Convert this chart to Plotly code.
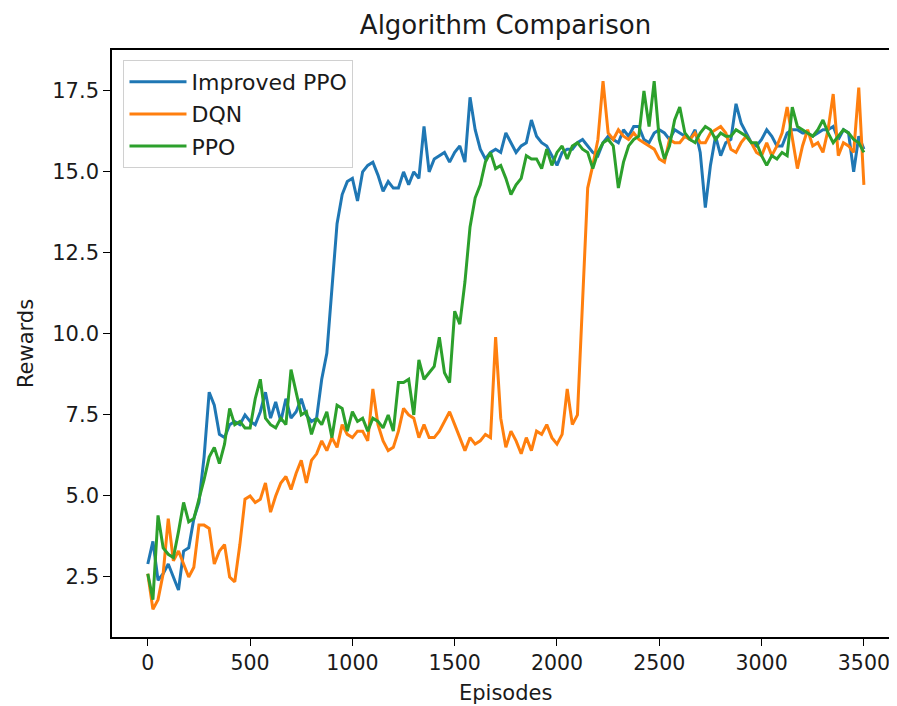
import plotly.graph_objects as go

episodes = list(range(0, 3501, 25))

improved_ppo = [
    2.9, 3.6, 2.4, 2.6, 2.9, 2.5, 2.1, 3.3, 3.4, 4.3,      # 0-225
    4.8, 6.2, 8.2, 7.8, 6.9, 6.8, 7.2, 7.3, 7.2, 7.5,      # 250-475
    7.3, 7.2, 7.6, 8.2, 7.4, 7.9, 7.3, 8.0, 7.4, 7.6,      # 500-725
    8.0, 7.5, 7.3, 7.4, 8.6, 9.4, 11.5, 13.4, 14.3, 14.7,  # 750-975
    14.8, 14.1, 15.0, 15.2, 15.3, 14.9, 14.4, 14.7, 14.5, 14.5,  # 1000-1225
    15.0, 14.6, 15.0, 14.8, 16.4, 15.0, 15.4, 15.5, 15.6, 15.3,  # 1250-1475
    15.6, 15.8, 15.3, 17.3, 16.3, 15.7, 15.4, 15.6, 15.7, 15.6,  # 1500-1725
    16.2, 15.9, 15.6, 15.8, 15.9, 16.6, 16.1, 15.9, 15.8, 15.5,  # 1750-1975
    15.2, 15.6, 15.7, 15.7, 15.9, 16.0, 15.8, 15.6, 15.5, 15.9,  # 2000-2225
    16.1, 16.0, 15.9, 16.3, 16.1, 16.4, 16.4, 16.0, 15.9, 16.2,  # 2250-2475
    16.3, 16.2, 16.0, 16.3, 16.2, 16.1, 16.0, 16.3, 15.6, 13.9,  # 2500-2725
    15.2, 16.1, 15.5, 15.9, 16.0, 17.1, 16.5, 16.2, 15.9, 15.8,  # 2750-2975
    16.0, 16.3, 16.1, 15.8, 15.8, 16.2, 16.3, 16.3, 16.2, 16.2,  # 3000-3225
    16.1, 16.2, 16.3, 16.3, 16.4, 16.0, 16.3, 16.2, 15.0, 16.1,  # 3250-3475
    15.7,                                                        # 3500
]

dqn = [
    2.6, 1.5, 1.8, 2.6, 4.3, 3.0, 3.3, 2.9, 2.5, 2.8,      # 0-225
    4.1, 4.1, 4.0, 2.9, 3.3, 3.5, 2.5, 2.35, 3.5, 4.9,     # 250-475
    5.0, 4.8, 4.9, 5.4, 4.5, 5.0, 5.4, 5.6, 5.2, 5.7,      # 500-725
    6.1, 5.4, 6.1, 6.3, 6.7, 6.4, 6.8, 6.5, 7.2, 6.9,      # 750-975
    6.8, 7.0, 7.0, 6.7, 8.3, 7.2, 6.7, 6.4, 6.5, 7.0,      # 1000-1225
    7.7, 7.5, 7.4, 6.8, 7.2, 6.8, 6.8, 7.0, 7.3, 7.6,      # 1250-1475
    7.2, 6.8, 6.4, 6.8, 6.6, 6.7, 6.9, 6.8, 9.9, 7.4,      # 1500-1725
    6.5, 7.0, 6.7, 6.3, 6.8, 6.4, 7.0, 6.9, 7.2, 6.8,      # 1750-1975
    6.6, 6.9, 8.3, 7.2, 7.5, 11.0, 14.5, 15.2, 16.0, 17.8,  # 2000-2225
    16.2, 16.0, 16.3, 16.1, 16.0, 16.2, 16.0, 15.9, 15.8, 15.7,  # 2250-2475
    15.4, 15.3, 16.0, 15.9, 15.9, 16.1, 16.0, 16.2, 15.9, 15.9,  # 2500-2725
    16.2, 16.3, 16.4, 16.2, 15.7, 15.6, 15.9, 16.1, 15.9, 15.6,  # 2750-2975
    15.5, 15.9, 15.5, 15.8, 16.2, 17.0, 16.1, 15.1, 15.8, 16.3,  # 3000-3225
    15.8, 15.9, 15.6, 16.3, 17.4, 15.5, 15.9, 15.8, 15.6, 17.6,  # 3250-3475
    14.6,                                                        # 3500
]

ppo = [
    2.6, 1.8, 4.4, 3.4, 3.2, 3.1, 3.9, 4.8, 4.2, 4.3,      # 0-225
    4.9, 5.5, 6.2, 6.5, 6.0, 6.6, 7.7, 7.2, 7.3, 7.1,      # 250-475
    7.1, 8.0, 8.6, 7.4, 7.2, 7.1, 7.4, 7.2, 8.9, 8.2,      # 500-725
    7.5, 7.6, 6.9, 7.4, 7.2, 7.6, 6.8, 7.8, 7.7, 7.0,      # 750-975
    7.6, 7.3, 7.4, 7.0, 7.4, 7.3, 7.1, 7.5, 7.0, 8.5,      # 1000-1225
    8.5, 8.6, 7.5, 9.2, 8.6, 8.8, 9.0, 9.9, 8.8, 8.5,      # 1250-1475
    10.7, 10.3, 11.6, 13.3, 14.2, 14.6, 15.3, 15.6, 15.1, 15.2,  # 1500-1725
    14.8, 14.3, 14.6, 14.8, 15.5, 15.4, 15.4, 15.1, 15.7, 15.2,  # 1750-1975
    15.6, 15.8, 15.4, 15.8, 15.9, 15.7, 15.6, 15.1, 15.6, 15.9,  # 2000-2225
    16.0, 15.8, 14.5, 15.3, 15.8, 16.0, 16.1, 17.5, 16.4, 17.8,  # 2250-2475
    16.0, 15.4, 15.8, 16.6, 17.0, 16.2, 16.0, 15.9, 16.2, 16.4,  # 2500-2725
    16.3, 16.0, 16.2, 16.1, 16.1, 16.3, 16.2, 16.1, 15.9, 15.9,  # 2750-2975
    15.5, 15.2, 15.5, 15.4, 15.6, 15.5, 17.0, 16.4, 16.3, 16.2,  # 3000-3225
    16.1, 16.3, 16.6, 16.2, 15.9, 16.1, 16.3, 16.2, 16.0, 15.9,  # 3250-3475
    15.6,                                                        # 3500
]

series_names = ["Improved PPO", "DQN", "PPO"]
series_colors = ["#1f77b4", "#ff7f0e", "#2ca02c"]
x_ticks = [0, 500, 1000, 1500, 2000, 2500, 3000, 3500]
y_ticks = [2.5, 5.0, 7.5, 10.0, 12.5, 15.0, 17.5]
y_tick_text = ["2.5", "5.0", "7.5", "10.0", "12.5", "15.0", "17.5"]

FONT = "DejaVu Sans, Liberation Sans, sans-serif"
TXT = "#1a1a1a"

# page body has an 8px margin; visible figure area is window (8..889, 8..706)
W, H = 881, 698
L, T = 103.5, 42
PLOT_BOTTOM = 628.7          # figure px of the x axis line
B = H - PLOT_BOTTOM
PW, PH = W - L, H - T - B
X_MAX = (889 - 146.7) / 0.2049  # episode value at the figure's right edge
X_RANGE = [-175, X_MAX]

fig = go.Figure()
for name, color, vals in zip(series_names, series_colors, [improved_ppo, dqn, ppo]):
    fig.add_trace(go.Scatter(
        x=episodes, y=vals, mode="lines", name=name, legendgroup=name,
        line=dict(color=color, width=3.0),
    ))

fig.update_layout(
    width=W, height=H,
    margin=dict(l=L, r=0, t=T, b=B, autoexpand=False),
    paper_bgcolor="white", plot_bgcolor="white",
    font=dict(family=FONT, size=21, color=TXT),
    title=dict(text="Algorithm Comparison", x=497.5 / W, xanchor="center",
               y=1 - 17 / H, yanchor="middle",
               font=dict(size=26, family=FONT, color=TXT)),
    showlegend=True,
    legend=dict(
        x=(115 - L) / PW, y=1 - (52 - T) / PH, xanchor="left", yanchor="top",
        bgcolor="rgba(255,255,255,0.8)", bordercolor="#d0d0d0", borderwidth=1,
        font=dict(size=22, family=FONT, color=TXT),
        tracegroupgap=0.5, itemwidth=57,
    ),
    xaxis=dict(
        range=X_RANGE, tickvals=x_ticks, ticktext=[str(t) for t in x_ticks],
        showgrid=False, zeroline=False, showline=True, linecolor="black", linewidth=1.6,
        ticks="outside", ticklen=7, tickwidth=1.4, tickcolor="black",
        tickfont=dict(size=20.5, family=FONT, color=TXT), ticklabeloverflow="allow",
    ),
    # top spine drawn by an overlaying, tick-less axis
    xaxis2=dict(
        range=X_RANGE, overlaying="x", side="top", matches="x",
        showgrid=False, zeroline=False, showline=True, linecolor="black", linewidth=1.6,
        showticklabels=False, ticks="",
    ),
    yaxis=dict(
        range=[0.648, 18.76], tickvals=y_ticks, ticktext=y_tick_text,
        showgrid=False, zeroline=False, showline=True, linecolor="black", linewidth=1.6,
        ticks="outside", ticklen=7, tickwidth=1.4, tickcolor="black",
        tickfont=dict(size=21, family=FONT, color=TXT),
    ),
    annotations=[
        dict(text="Episodes", xref="paper", yref="paper", x=(497.5 - L) / PW,
             y=-(685 - PLOT_BOTTOM) / PH,
             xanchor="center", yanchor="middle", showarrow=False,
             font=dict(size=21, family=FONT, color=TXT)),
        dict(text="Rewards", xref="paper", yref="paper", x=-(L - 17) / PW, y=0.5,
             xanchor="center", yanchor="middle", showarrow=False, textangle=-90,
             font=dict(size=21, family=FONT, color=TXT)),
    ],
)
# an invisible trace on the top axis so that it is drawn
fig.add_trace(go.Scatter(x=[episodes[0]], y=[ppo[0]], xaxis="x2", mode="lines",
                         showlegend=False, hoverinfo="skip", line=dict(width=0)))

fig.write_html("out.html")
